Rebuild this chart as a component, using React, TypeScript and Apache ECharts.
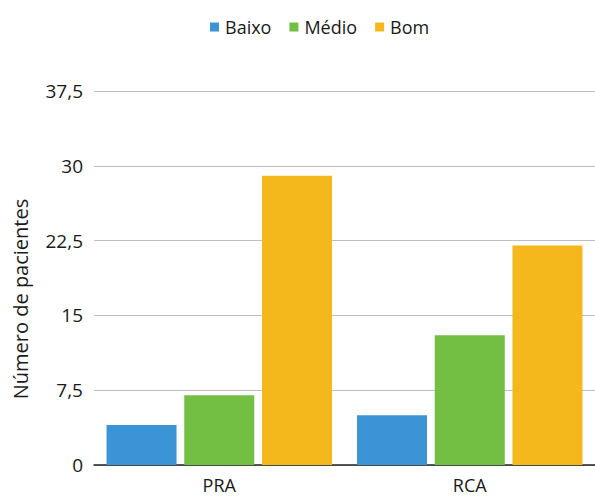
import React, { useEffect, useRef } from "react";
import * as echarts from "echarts";

const categories = ["PRA", "RCA"];
const seriesNames = ["Baixo", "Médio", "Bom"];
const baixo = [4, 5];
const medio = [7, 13];
const bom = [29, 22];
const yTicks = [0, 7.5, 15, 22.5, 30, 37.5];
const colors = ["#3b94d6", "#72bf44", "#f5b81c"];
const FONT = "'Open Sans', 'Liberation Sans', sans-serif";

export default function App() {
  const ref = useRef<HTMLDivElement>(null);
  useEffect(() => {
    if (!ref.current) return;
    const chart = echarts.init(ref.current, null, { renderer: "svg" });
    const data = [baixo, medio, bom];
    chart.setOption({
      animation: false,
      backgroundColor: "#ffffff",
      color: colors,
      textStyle: { fontFamily: FONT },
      legend: {
        top: 13,
        left: 205,
        itemWidth: 9,
        itemHeight: 9,
        itemGap: 18,
        icon: "rect",
        textStyle: { fontSize: 18, color: "#1a1a1a", fontFamily: FONT, padding: [0, 0, 0, 1] },
        data: seriesNames,
      },
      grid: { left: 94, right: 0, top: 91, bottom: 34 },
      xAxis: {
        type: "category",
        data: categories,
        axisLine: { lineStyle: { color: "#222", width: 1.5 } },
        axisTick: { show: false },
        axisLabel: { fontSize: 18, color: "#1a1a1a", margin: 11, fontFamily: FONT },
      },
      yAxis: {
        type: "value",
        min: 0,
        max: yTicks[yTicks.length - 1],
        interval: 7.5,
        axisLine: { show: false },
        axisTick: { show: false },
        splitLine: { lineStyle: { color: "#bfbfbf", width: 1 } },
        axisLabel: {
          fontSize: 19,
          color: "#1a1a1a",
          margin: 11,
          fontFamily: FONT,
          formatter: (v: number) => String(v).replace(".", ","),
        },
      },
      graphic: [
        {
          type: "text",
          x: 20,
          y: 299,
          rotation: Math.PI / 2,
          style: {
            text: "Número de pacientes",
            fontSize: 20,
            fill: "#1a1a1a",
            fontFamily: FONT,
            textAlign: "center",
            textVerticalAlign: "middle",
          },
        },
      ],
      series: seriesNames.map((name, i) => ({
        name,
        type: "bar",
        data: data[i],
        barGap: "11%",
        barCategoryGap: "10%",
      })),
    });
    return () => chart.dispose();
  }, []);
  return (
    <div
      ref={ref}
      style={{ position: "fixed", left: 0, top: 0, width: 595, height: 499 }}
    />
  );
}
